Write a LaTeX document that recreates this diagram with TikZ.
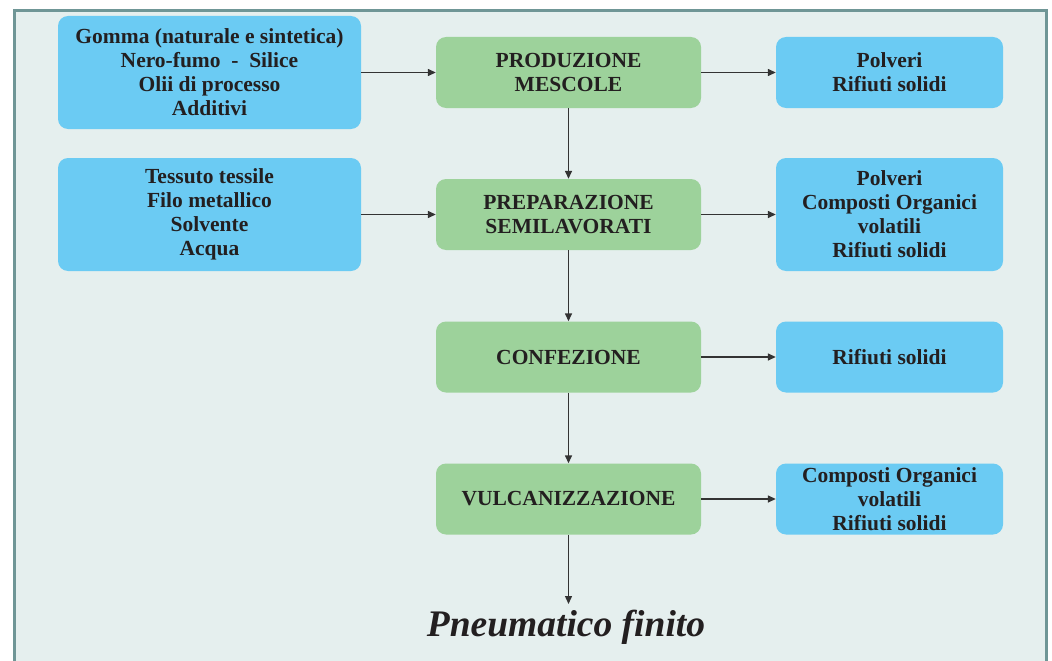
\documentclass[tikz,border=0pt]{standalone}
\usepackage{fontspec}
\setmainfont{Liberation Serif}
\usetikzlibrary{arrows.meta}
\definecolor{bgc}{HTML}{E5EFEE}
\definecolor{framec}{HTML}{6F9696}
\definecolor{bluec}{HTML}{6BCBF3}
\definecolor{greenc}{HTML}{9DD29B}
\definecolor{txtc}{HTML}{231F20}
\definecolor{arrc}{HTML}{333333}
\tikzset{
  basebox/.style={rounded corners=10pt, inner sep=0pt, align=center, text=txtc,
    font=\bfseries\fontsize{21.5}{24}\selectfont},
  bluebox/.style={basebox, fill=bluec, minimum width=303pt, minimum height=113pt},
  bluer/.style={basebox, fill=bluec, minimum width=227pt, minimum height=71pt},
  greenbox/.style={basebox, fill=greenc, minimum width=265pt, minimum height=71pt},
  conn/.style={draw=arrc, line width=1.4pt, -{Triangle[length=8pt,width=7pt]}}
}
\begin{document}
\begin{tikzpicture}[x=1pt,y=-1pt]
\useasboundingbox (0,0) rectangle (1052,661);
\begin{scope}
\clip (0,0) rectangle (1052,661);
\fill[white] (0,0) rectangle (1052,661);
\draw[framec, line width=3pt, fill=bgc] (14.5,10.5) rectangle (1046.5,720);
\end{scope}
\node[bluebox] (in1) at (209.5,72.5) {Gomma (naturale e sintetica)\\Nero-fumo \ - \ Silice\\Olii di processo\\Additivi};
\node[greenbox] (p1) at (568.5,72.5) {PRODUZIONE\\MESCOLE};
\node[bluer] (o1) at (889.5,72.5) {Polveri\\Rifiuti solidi};
\node[bluebox] (in2) at (209.5,214.5) {Tessuto tessile\\Filo metallico\\Solvente\\Acqua};
\node[greenbox] (p2) at (568.5,214.5) {PREPARAZIONE\\SEMILAVORATI};
\node[bluer, minimum height=113pt] (o2) at (889.5,214.5) {Polveri\\Composti Organici\\volatili\\Rifiuti solidi};
\node[greenbox] (p3) at (568.5,357) {CONFEZIONE};
\node[bluer] (o3) at (889.5,357) {Rifiuti solidi};
\node[greenbox] (p4) at (568.5,499) {VULCANIZZAZIONE};
\node[bluer] (o4) at (889.5,499) {Composti Organici\\volatili\\Rifiuti solidi};
\node[text=txtc, font=\bfseries\itshape\fontsize{37.5}{40}\selectfont, anchor=base, inner sep=0pt] (fin) at (566,636) {Pneumatico finito};
\coordinate (finend) at (568.5,604);
\draw[conn] (in1) -- (p1);
\draw[conn] (p1) -- (o1);
\draw[conn] (in2) -- (p2);
\draw[conn] (p2) -- (o2);
\draw[conn] (p3) -- (o3);
\draw[conn] (p4) -- (o4);
\draw[conn] (p1.south) -- (p2.north);
\draw[conn] (p2.south) -- (p3.north);
\draw[conn] (p3.south) -- (p4.north);
\draw[conn] (p4.south) -- (finend);
\end{tikzpicture}
\end{document}
